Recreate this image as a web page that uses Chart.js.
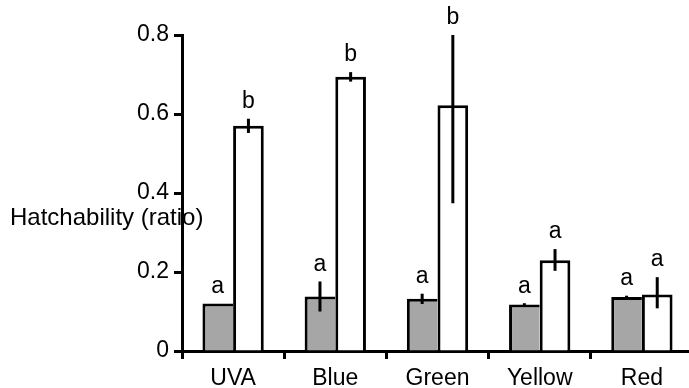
<!DOCTYPE html>
<html>
<head>
<meta charset="utf-8">
<script src="https://cdn.jsdelivr.net/npm/chart.js@4/dist/chart.umd.min.js"></script>
<style>
    html, body { margin: 0; padding: 0; background: #fff; overflow: hidden; }
    #wrap { width: 695px; height: 388px; }
</style>
</head>
<body>
<div id="wrap"><canvas id="barChart" width="695" height="388"></canvas></div>
<script>
// values
var categories = ['UVA', 'Blue', 'Green', 'Yellow', 'Red'];
var grayValues = [0.120, 0.138, 0.132, 0.118, 0.137];
var whiteValues = [0.570, 0.694, 0.622, 0.230, 0.143];
var grayErrUp = [0, 0.038, 0.013, 0.003, 0.003];
var grayErrDown = [0, 0.038, 0.013, 0.003, 0.003];
var whiteErrUp = [0.018, 0.012, 0.178, 0.028, 0.044];
var whiteErrDown = [0.018, 0.012, 0.248, 0.027, 0.035];
var grayLetters = ['a', 'a', 'a', 'a', 'a'];
var whiteLetters = ['b', 'b', 'b', 'a', 'a'];
var yTickLabels = ['0', '0.2', '0.4', '0.6', '0.8'];
var yTitle = 'Hatchability (ratio)';

var FONT = '"Liberation Sans", Arial, sans-serif';

// error bars + significance letters
var errorBarPlugin = {
    id: 'errorBars',
    afterDatasetsDraw: function (chart) {
        var ctx = chart.ctx;
        var yScale = chart.scales.y;
        var errs = [[grayErrUp, grayErrDown, grayLetters], [whiteErrUp, whiteErrDown, whiteLetters]];
        ctx.save();
        ctx.strokeStyle = '#000';
        ctx.lineWidth = 3;
        ctx.fillStyle = '#000';
        ctx.font = '23px ' + FONT;
        ctx.textAlign = 'center';
        ctx.textBaseline = 'middle';
        chart.data.datasets.forEach(function (ds, di) {
            var meta = chart.getDatasetMeta(di);
            meta.data.forEach(function (bar, i) {
                var v = ds.data[i];
                var up = errs[di][0][i], down = errs[di][1][i];
                var yTop = yScale.getPixelForValue(v + up);
                if (up > 0 || down > 0) {
                    ctx.beginPath();
                    ctx.moveTo(bar.x, yTop);
                    ctx.lineTo(bar.x, yScale.getPixelForValue(v - down));
                    ctx.stroke();
                }
                ctx.fillText(errs[di][2][i], bar.x, yTop - 17);
            });
        });
        ctx.restore();
    },
    afterDraw: function (chart) {
        var ctx = chart.ctx;
        ctx.save();
        ctx.fillStyle = '#000';
        ctx.font = '24px ' + FONT;
        ctx.textAlign = 'left';
        ctx.textBaseline = 'alphabetic';
        ctx.fillText(yTitle, 10, 225);
        ctx.restore();
    }
};

var ctx = document.getElementById('barChart');
var myBarChart = new Chart(ctx, {
    type: 'bar',
    data: {
        labels: categories,
        datasets: [{
            label: 'Series 1',
            data: grayValues,
            backgroundColor: '#a6a6a6',
            borderColor: '#000',
            borderWidth: { top: 3, left: 3, right: 0, bottom: 0 },
            borderSkipped: false
        }, {
            label: 'Series 2',
            data: whiteValues,
            backgroundColor: '#fff',
            borderColor: '#000',
            borderWidth: { top: 3, left: 3, right: 3, bottom: 0 },
            borderSkipped: false
        }]
    },
    options: {
        responsive: false,
        animation: false,
        devicePixelRatio: 1,
        layout: { padding: { top: 35, right: 2, left: 0, bottom: 0 } },
        datasets: {
            bar: { categoryPercentage: 0.6, barPercentage: 1.0 }
        },
        plugins: {
            legend: { display: false },
            tooltip: { enabled: false }
        },
        scales: {
            x: {
                offset: true,
                afterFit: function (s) { s.height = 37; },
                grid: {
                    offset: true,
                    drawOnChartArea: false,
                    drawTicks: true,
                    tickLength: 8,
                    tickWidth: 3,
                    tickColor: '#000'
                },
                border: { display: true, color: '#000', width: 3 },
                ticks: { color: '#000', padding: 6, font: { size: 23, family: FONT } }
            },
            y: {
                min: 0,
                max: 0.8,
                afterFit: function (s) { s.width = 182; },
                grid: {
                    drawOnChartArea: false,
                    drawTicks: true,
                    tickLength: 8,
                    tickWidth: 3,
                    tickColor: '#000'
                },
                border: { display: true, color: '#000', width: 3 },
                ticks: {
                    stepSize: 0.2,
                    color: '#000',
                    padding: 5,
                    font: { size: 23, family: FONT },
                    callback: function (value, index) { return yTickLabels[index]; }
                }
            }
        }
    },
    plugins: [errorBarPlugin]
});
</script>
</body>
</html>
